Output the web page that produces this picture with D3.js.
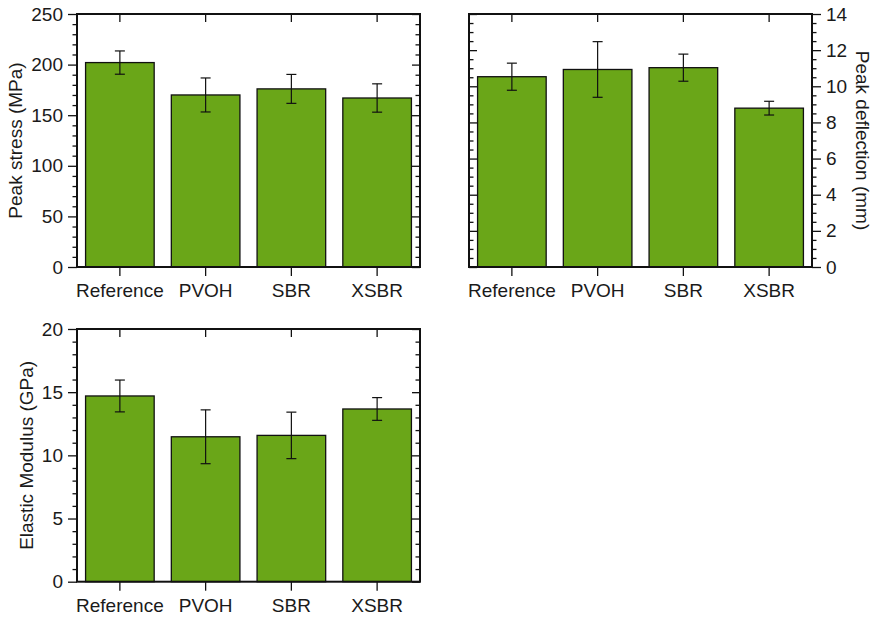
<!DOCTYPE html>
<html>
<head>
<meta charset="utf-8">
<script src="https://cdn.jsdelivr.net/npm/d3@7"></script>
<style>
  html, body { margin: 0; padding: 0; background: #fff; }
  svg { display: block; }
  text { font-family: "Liberation Sans", Arial, sans-serif; fill: #1a1a1a; }
</style>
</head>
<body>
<svg id="fig" width="880" height="619"></svg>
<script>
// Sample groups
const categories = ["Reference", "PVOH", "SBR", "XSBR"];

// Peak stress (MPa): mean and standard deviation
const stressMean = [202, 170, 176, 167];
const stressErr  = [11.5, 16.8, 14.3, 14.0];

// Peak deflection (mm)
const deflMean = [10.53, 10.93, 11.03, 8.79];
const deflErr  = [0.75, 1.54, 0.75, 0.38];

// Elastic modulus (GPa)
const modMean = [14.70, 11.47, 11.58, 13.67];
const modErr  = [1.26, 2.13, 1.84, 0.90];

// Tick values per panel
const stressTicks = [0, 50, 100, 150, 200, 250];
const deflTicks   = [0, 2, 4, 6, 8, 10, 12, 14];
const modTicks    = [0, 5, 10, 15, 20];

const BAR_FILL = "#6aa618";
const svg = d3.select("#fig");

function panel(opts) {
  const { x0, x1, y0, y1, domain, ticks, minorStep, means, errs, label, side } = opts;
  const g = svg.append("g");

  const x = d3.scaleBand().domain(categories).range([x0, x1]).paddingInner(0.2).paddingOuter(0.1);
  const y = d3.scaleLinear().domain(domain).range([y1, y0]);
  const minor = d3.range(domain[0], domain[1] + minorStep / 2, minorStep)
    .filter(v => !ticks.some(t => Math.abs(t - v) < 1e-9));

  // bars
  g.selectAll("rect.bar").data(categories).join("rect")
    .attr("class", "bar")
    .attr("x", d => x(d))
    .attr("width", x.bandwidth())
    .attr("y", (d, i) => y(means[i]))
    .attr("height", (d, i) => y(0) - y(means[i]))
    .attr("fill", BAR_FILL)
    .attr("stroke", "#111")
    .attr("stroke-width", 1.3);

  // error bars
  const eb = g.selectAll("g.err").data(categories).join("g").attr("class", "err")
    .attr("stroke", "#111").attr("stroke-width", 1.2);
  const cx = d => x(d) + x.bandwidth() / 2;
  eb.append("line")
    .attr("x1", cx).attr("x2", cx)
    .attr("y1", (d, i) => y(means[i] + errs[i]))
    .attr("y2", (d, i) => y(means[i] - errs[i]));
  eb.append("line")
    .attr("x1", d => cx(d) - 5).attr("x2", d => cx(d) + 5)
    .attr("y1", (d, i) => y(means[i] + errs[i]))
    .attr("y2", (d, i) => y(means[i] + errs[i]));
  eb.append("line")
    .attr("x1", d => cx(d) - 5).attr("x2", d => cx(d) + 5)
    .attr("y1", (d, i) => y(means[i] - errs[i]))
    .attr("y2", (d, i) => y(means[i] - errs[i]));

  const styleAxis = sel => {
    sel.select(".domain").remove();
    sel.selectAll(".tick line").attr("stroke", "#111").attr("stroke-width", 1.3);
    sel.selectAll(".tick text").attr("font-size", 19).attr("fill", "#1a1a1a");
  };

  // labelled y axis side and mirrored side
  const labelX = side === "left" ? x0 : x1;
  const mirrorX = side === "left" ? x1 : x0;
  const labAxis = side === "left" ? d3.axisLeft(y) : d3.axisRight(y);
  const mirAxis = side === "left" ? d3.axisLeft(y) : d3.axisRight(y);
  const mirMinor = side === "left" ? d3.axisLeft(y) : d3.axisRight(y);
  const labMinor = side === "left" ? d3.axisLeft(y) : d3.axisRight(y);

  g.append("g").attr("transform", `translate(${labelX},0)`)
    .call(labAxis.tickValues(ticks).tickSize(9).tickPadding(5).tickSizeOuter(0))
    .call(styleAxis);
  g.append("g").attr("transform", `translate(${labelX},0)`)
    .call(labMinor.tickValues(minor).tickSize(4.5).tickFormat("").tickSizeOuter(0))
    .call(styleAxis);
  // inward ticks on the opposite edge
  const inward = side === "left" ? d3.axisLeft : d3.axisRight;
  g.append("g").attr("transform", `translate(${mirrorX},0)`)
    .call(inward(y).tickValues(ticks).tickSize(8).tickFormat("").tickSizeOuter(0))
    .call(styleAxis);
  g.append("g").attr("transform", `translate(${mirrorX},0)`)
    .call(inward(y).tickValues(minor).tickSize(4.5).tickFormat("").tickSizeOuter(0))
    .call(styleAxis);

  // category axis at the bottom, mirrored inward at the top
  g.append("g").attr("transform", `translate(0,${y1})`)
    .call(d3.axisBottom(x).tickSize(9).tickPadding(8).tickSizeOuter(0))
    .call(styleAxis);
  g.append("g").attr("transform", `translate(0,${y0})`)
    .call(d3.axisBottom(x).tickSize(8).tickFormat("").tickSizeOuter(0))
    .call(styleAxis);

  // frame
  g.append("rect")
    .attr("x", x0).attr("y", y0).attr("width", x1 - x0).attr("height", y1 - y0)
    .attr("fill", "none").attr("stroke", "#111").attr("stroke-width", 2);

  // axis title
  const cy = (y0 + y1) / 2;
  if (side === "left") {
    g.append("text")
      .attr("transform", `translate(${opts.titleX},${cy}) rotate(-90)`)
      .attr("text-anchor", "middle").attr("font-size", 19)
      .text(label);
  } else {
    g.append("text")
      .attr("transform", `translate(${opts.titleX},${cy}) rotate(90)`)
      .attr("text-anchor", "middle").attr("font-size", 19)
      .text(label);
  }
}

panel({ x0: 77, x1: 420, y0: 14, y1: 267, domain: [0, 250], ticks: stressTicks, minorStep: 10,
        means: stressMean, errs: stressErr, label: "Peak stress (MPa)", side: "left", titleX: 22 });
panel({ x0: 469, x1: 812, y0: 14, y1: 267, domain: [0, 14], ticks: deflTicks, minorStep: 0.5,
        means: deflMean, errs: deflErr, label: "Peak deflection (mm)", side: "right", titleX: 856 });
panel({ x0: 77, x1: 420, y0: 329, y1: 581.7, domain: [0, 20], ticks: modTicks, minorStep: 1,
        means: modMean, errs: modErr, label: "Elastic Modulus (GPa)", side: "left", titleX: 33 });
</script>
</body>
</html>
